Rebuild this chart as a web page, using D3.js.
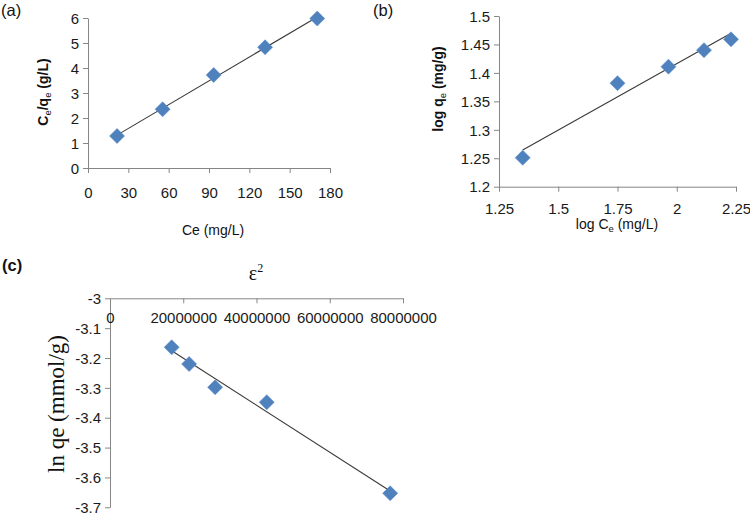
<!DOCTYPE html>
<html><head><meta charset="utf-8">
<script src="https://cdn.jsdelivr.net/npm/d3@7"></script>
<style>body{margin:0;background:#fff}svg{display:block}</style>
</head><body>
<svg id="c" width="750" height="518"></svg>
<script>
// Panel (a) Langmuir
const aCe = [21.6, 55.5, 93.5, 131.7, 170.5];
const aCeQe = [1.28, 2.35, 3.72, 4.83, 5.98];
const aXTicks = [0, 30, 60, 90, 120, 150, 180];
const aYTicks = [0, 1, 2, 3, 4, 5, 6];
// Panel (b) Freundlich
const bLogCe = [1.35, 1.75, 1.965, 2.115, 2.229];
const bLogQe = [1.251, 1.382, 1.411, 1.44, 1.459];
const bXTicks = [1.25, 1.5, 1.75, 2, 2.25];
const bYTicks = [1.2, 1.25, 1.3, 1.35, 1.4, 1.45, 1.5];
// Panel (c) D-R
const cEps2 = [16850000, 21600000, 28700000, 42800000, 76500000];
const cLnQe = [-3.164, -3.22, -3.298, -3.348, -3.653];
const cXTicks = [0, 20000000, 40000000, 60000000, 80000000];
const cYTicks = [-3, -3.1, -3.2, -3.3, -3.4, -3.5, -3.6, -3.7];

const svg = d3.select("#c");
const AX = "#868686", MK = "#4F81BD";
const SANS = "'Liberation Sans', Arial, sans-serif";

function fit(xs, ys) {
  const n = xs.length, mx = d3.mean(xs), my = d3.mean(ys);
  let sxy = 0, sxx = 0;
  for (let i = 0; i < n; i++) { sxy += (xs[i]-mx)*(ys[i]-my); sxx += (xs[i]-mx)**2; }
  const b = sxy / sxx; return x => my + b*(x - mx);
}

function panel(o) {
  const g = svg.append("g");
  const x = d3.scaleLinear().domain(o.xd).range([o.x0, o.x1]);
  const y = d3.scaleLinear().domain(o.yd).range([o.y0, o.y1]);
  const ya = g.append("g").attr("transform", `translate(${o.x0},0)`)
    .call(d3.axisLeft(y).tickValues(o.yt).tickSize(5).tickSizeOuter(0).tickFormat(o.yf || (d => d)));
  ya.select(".domain").attr("stroke", AX);
  ya.selectAll(".tick line").attr("stroke", AX);
  ya.selectAll(".tick text").attr("fill", "#1a1a1a").attr("font-family", SANS)
    .attr("font-size", 15).attr("x", -9).attr("dy", "0.35em");
  const xa = g.append("g").attr("transform", `translate(0,${o.xAxisY})`)
    .call(d3.axisBottom(x).tickValues(o.xt).tickSize(5).tickSizeOuter(0).tickFormat(o.xf || (d => d)));
  xa.select(".domain").attr("stroke", AX);
  xa.selectAll(".tick line").attr("stroke", AX);
  xa.selectAll(".tick text").attr("fill", "#1a1a1a").attr("font-family", SANS)
    .attr("font-size", 15).attr("y", o.xLabOff).attr("dy", "0");
  const f = fit(o.xs, o.ys);
  const xmin = d3.min(o.xs), xmax = d3.max(o.xs);
  g.append("line").attr("x1", x(xmin)).attr("y1", y(f(xmin)))
    .attr("x2", x(xmax)).attr("y2", y(f(xmax)))
    .attr("stroke", "#3a3a3a").attr("stroke-width", 1.1);
  const r = 7.5;
  g.selectAll("path.m").data(o.xs.map((d, i) => [d, o.ys[i]])).join("path")
    .attr("d", d => { const cx = x(d[0]), cy = y(d[1]);
      return `M${cx},${cy-r}L${cx+r},${cy}L${cx},${cy+r}L${cx-r},${cy}Z`; })
    .attr("fill", MK).attr("stroke", "#5b8fcf").attr("stroke-width", 0.6);
  return {x, y};
}

panel({xd:[0,180], yd:[0,6], x0:88, x1:330, y0:168, y1:18, xAxisY:168,
  xt:aXTicks, yt:aYTicks, xs:aCe, ys:aCeQe, xLabOff:30});
panel({xd:[1.25,2.25], yd:[1.2,1.5], x0:499, x1:736, y0:186.7, y1:16, xAxisY:186.7,
  xt:bXTicks, yt:bYTicks, xs:bLogCe, ys:bLogQe, xLabOff:27});
panel({xd:[0,80000000], yd:[-3.7,-3], x0:110, x1:403, y0:507.3, y1:298.3, xAxisY:298.3,
  xt:cXTicks, yt:cYTicks, xs:cEps2, ys:cLnQe, xLabOff:25, xf: d => String(d)});

function T(x, y, txt, size, opts = {}) {
  return svg.append("text").attr("x", x).attr("y", y).text(txt)
    .attr("font-family", opts.family || SANS).attr("font-size", size)
    .attr("font-weight", opts.bold ? "bold" : "normal")
    .attr("text-anchor", opts.anchor || "start").attr("fill", "#111");
}
T(1, 16, "(a)", 16.5);
T(373, 16, "(b)", 16.5);
T(2, 271, "(c)", 16.5, {bold:true});

T(213, 235, "Ce (mg/L)", 14, {anchor:"middle"});

const lb = svg.append("text").attr("x", 617).attr("y", 229).attr("text-anchor", "middle")
  .attr("font-family", SANS).attr("font-size", 14).attr("fill", "#111");
lb.append("tspan").text("log C");
lb.append("tspan").text("e").attr("font-size", 9.5).attr("dy", 3);
lb.append("tspan").text(" (mg/L)").attr("dy", -3);

const ay = svg.append("text").attr("transform", "translate(48,92) rotate(-90)")
  .attr("text-anchor", "middle").attr("font-family", SANS).attr("font-size", 14)
  .attr("font-weight", "bold").attr("fill", "#111");
ay.append("tspan").text("C");
ay.append("tspan").text("e").attr("font-size", 9.5).attr("font-weight", "normal").attr("dy", 3);
ay.append("tspan").text("/q").attr("dy", -3);
ay.append("tspan").text("e").attr("font-size", 9.5).attr("font-weight", "normal").attr("dy", 3);
ay.append("tspan").text(" (g/L)").attr("dy", -3);

const by = svg.append("text").attr("transform", "translate(443,89) rotate(-90)")
  .attr("text-anchor", "middle").attr("font-family", SANS).attr("font-size", 14)
  .attr("font-weight", "bold").attr("fill", "#111");
by.append("tspan").text("log q");
by.append("tspan").text("e").attr("font-size", 9.5).attr("font-weight", "normal").attr("dy", 3);
by.append("tspan").text(" (mg/g)").attr("dy", -3);

const eps = svg.append("text").attr("x", 256).attr("y", 280).attr("text-anchor", "middle")
  .attr("font-family", "'Liberation Serif', 'DejaVu Serif', serif").attr("font-size", 20).attr("fill", "#111");
eps.append("tspan").text("ε");
eps.append("tspan").text("2").attr("font-size", 12).attr("dy", -8);

svg.append("text").attr("transform", "translate(64,404) rotate(-90)")
  .attr("text-anchor", "middle").attr("font-family", "'Liberation Serif', 'Times New Roman', serif")
  .attr("font-size", 23).attr("fill", "#111").text("ln qe (mmol/g)");
</script>
</body></html>
